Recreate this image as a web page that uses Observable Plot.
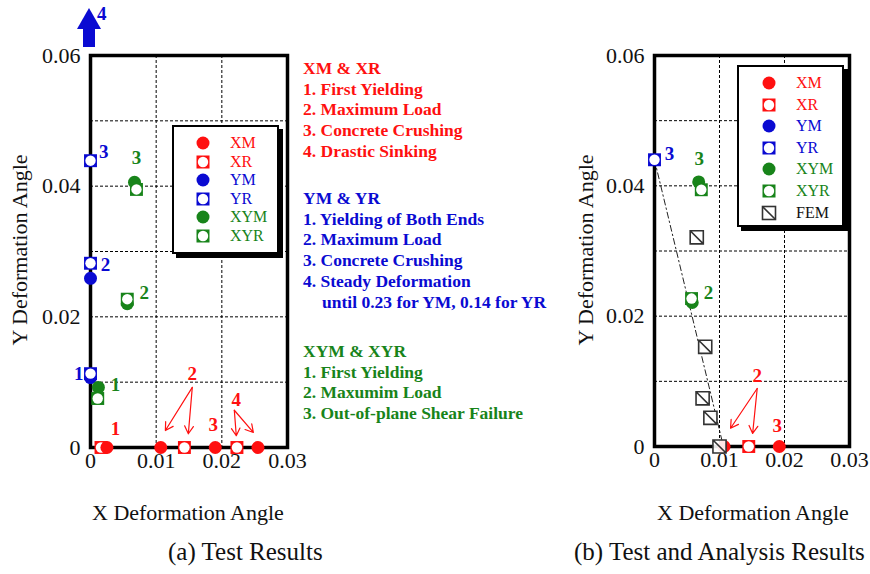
<!DOCTYPE html>
<html>
<head>
<meta charset="utf-8">
<script src="https://cdn.jsdelivr.net/npm/d3@7"></script>
<script src="https://cdn.jsdelivr.net/npm/@observablehq/plot@0.6"></script>
<style>
  html, body { margin: 0; padding: 0; background: #fff; overflow: hidden; }
  #root { position: relative; width: 870px; height: 574px; overflow: hidden; font-family: 'Liberation Serif'; }
  .abs { position: absolute; white-space: nowrap; font-family: 'Liberation Serif'; }
  .lbl { font-size: 22px; color: #111; }
  .cap { font-size: 25px; color: #111; }
  .note { font-size: 17.5px; font-weight: bold; line-height: 20.7px; }
  .legend { position: absolute; background: #fff; border: 2px solid #000; box-shadow: 4px 4px 0 #000; font-family: 'Liberation Serif'; }
  .legend .row { position: absolute; left: 0; font-size: 16px; font-family: 'Liberation Serif'; }
</style>
</head>
<body>
<div id="root"></div>
<script>
const SERIF = "Liberation Serif";
// ---------- colours ----------
const RED = "#ff1010", BLUE = "#0a0ad2", GREEN = "#18841a";

// ---------- Panel (a) data : Test results ----------
const a_xmX = [0.0025, 0.0107, 0.0190, 0.0255];
const a_xmY = [0, 0, 0, 0];
const a_xrX = [0.0016, 0.0143, 0.0223];
const a_xrY = [0, 0, 0];
const a_ymX = [0, 0];
const a_ymY = [0.0107, 0.0259];
const a_yrX = [0, 0, 0];
const a_yrY = [0.0113, 0.0282, 0.0439];
const a_xymX = [0.0012, 0.0056, 0.0067];
const a_xymY = [0.0092, 0.0220, 0.0406];
const a_xyrX = [0.0011, 0.0056, 0.0070];
const a_xyrY = [0.0075, 0.0227, 0.0395];

// stage-number labels (text, x, y, series colour key)
const a_lblText = ["1", "2", "3", "4", "1", "2", "3", "1", "2", "3"];
const a_lblX = [0.0038, 0.0155, 0.0187, 0.0222, -0.0018, 0.0023, 0.0020, 0.0038, 0.0082, 0.0070];
const a_lblY = [0.0029, 0.0113, 0.0034, 0.0073, 0.0113, 0.0279, 0.0452, 0.0096, 0.0236, 0.0444];
const a_lblC = ["r", "r", "r", "r", "b", "b", "b", "g", "g", "g"];
// arrows from labels to points
const a_arX1 = [0.0155, 0.0155, 0.0219, 0.0219];
const a_arY1 = [0.0092, 0.0092, 0.0057, 0.0057];
const a_arX2 = [0.0114, 0.0149, 0.0222, 0.0248];
const a_arY2 = [0.0026, 0.0021, 0.0018, 0.0023];

// ---------- Panel (b) data : Test and analysis ----------
const b_xmX = [0.0107, 0.0192];
const b_xmY = [0, 0];
const b_xrX = [0.0145];
const b_xrY = [0];
const b_yrX = [0];
const b_yrY = [0.0440];
const b_xymX = [0.0068, 0.0058];
const b_xymY = [0.0406, 0.0221];
const b_xyrX = [0.0072, 0.0057];
const b_xyrY = [0.0394, 0.0227];
const b_femX = [0.0065, 0.0078, 0.0074, 0.0086, 0.0100];
const b_femY = [0.0321, 0.0153, 0.0074, 0.0044, 0.0000];
const b_fitX = [0, 0.0106];
const b_fitY = [0.0440, 0];
const b_lblText = ["3", "3", "2", "2", "3"];
const b_lblX = [0.0023, 0.0069, 0.0083, 0.0158, 0.0189];
const b_lblY = [0.0449, 0.0442, 0.0236, 0.0109, 0.0032];
const b_lblC = ["b", "g", "g", "r", "r"];
const b_arX1 = [0.0158, 0.0158];
const b_arY1 = [0.0089, 0.0089];
const b_arX2 = [0.0117, 0.0151];
const b_arY2 = [0.0028, 0.0020];

// ---------- axes ----------
const xTicks = [0, 0.01, 0.02, 0.03];
const yTicks = [0, 0.02, 0.04, 0.06];
const xGrid = [0.01, 0.02];
const yGrid = [0.01, 0.02, 0.03, 0.04, 0.05];

// legend entries
const legNames = ["XM", "XR", "YM", "YR", "XYM", "XYR"];
const legColors = [RED, RED, BLUE, BLUE, GREEN, GREEN];
const legShapes = ["circle", "square", "circle", "square", "circle", "square"];

const colorOf = {r: RED, b: BLUE, g: GREEN};
const fmt = d => d === 0 ? "0" : d3.format(".2f")(d);
const pts = (xs, ys) => xs.map((x, i) => ({x, y: ys[i]}));

// custom FEM symbol: square with diagonal
const femSymbol = {
  draw(ctx, size) {
    const s = Math.sqrt(size) / 2;
    ctx.moveTo(-s, -s); ctx.lineTo(s, -s); ctx.lineTo(s, s); ctx.lineTo(-s, s); ctx.closePath();
    ctx.moveTo(-s, -s); ctx.lineTo(s, s);
  }
};

function seriesMarks(s) {
  const out = [];
  const circ = (d, c) => out.push(Plot.dot(d, {x: "x", y: "y", r: 6.5, fill: c}));
  const sq = (d, c) => {
    out.push(Plot.dot(d, {x: "x", y: "y", r: 7.3, symbol: "square", fill: c}));
    out.push(Plot.dot(d, {x: "x", y: "y", r: 5.2, fill: "#fff"}));
  };
  if (s.ym) circ(s.ym, BLUE);
  if (s.yr) sq(s.yr, BLUE);
  if (s.xym) circ(s.xym, GREEN);
  if (s.xyr) sq(s.xyr, GREEN);
  if (s.xr) sq(s.xr, RED);
  if (s.xm) circ(s.xm, RED);
  return out;
}

function baseMarks() {
  return [
    Plot.gridX(xGrid, {stroke: "#000", strokeOpacity: 1, strokeWidth: 1, strokeDasharray: "3,2"}),
    Plot.gridY(yGrid, {stroke: "#000", strokeOpacity: 1, strokeWidth: 1, strokeDasharray: "3,2"}),
    Plot.axisX({ticks: xTicks, tickSize: 0, tickPadding: 5, tickFormat: fmt, fontSize: 22, label: null, fontFamily: SERIF}),
    Plot.axisY({ticks: yTicks, tickSize: 0, tickPadding: 10, tickFormat: fmt, fontSize: 22, label: null, fontFamily: SERIF}),
    Plot.frame({stroke: "#000", strokeWidth: 3.5})
  ];
}

function labelMarks(t, xs, ys, cs) {
  const d = t.map((s, i) => ({s, x: xs[i], y: ys[i], c: colorOf[cs[i]]}));
  return Plot.text(d, {x: "x", y: "y", text: "s", fill: "c", fontSize: 19, fontWeight: "bold", fontFamily: SERIF});
}
function arrowMarks(x1, y1, x2, y2) {
  const d = x1.map((v, i) => ({x1: v, y1: y1[i], x2: x2[i], y2: y2[i]}));
  return Plot.arrow(d, {x1: "x1", y1: "y1", x2: "x2", y2: "y2", stroke: RED, strokeWidth: 1.2, headLength: 11, bend: false, insetEnd: 0});
}

const common = {
  height: 574, marginTop: 55, marginBottom: 127,
  x: {domain: [0, 0.03]}, y: {domain: [0, 0.06]},
  style: {fontFamily: SERIF, color: "#111", background: "transparent", overflow: "visible"}
};

// ---------- Panel (a) ----------
const chartA = Plot.plot({
  ...common, width: 300, marginLeft: 90, marginRight: 13,
  marks: [
    ...baseMarks(),
    ...seriesMarks({
      xm: pts(a_xmX, a_xmY), xr: pts(a_xrX, a_xrY), ym: pts(a_ymX, a_ymY),
      yr: pts(a_yrX, a_yrY), xym: pts(a_xymX, a_xymY), xyr: pts(a_xyrX, a_xyrY)
    }),
    arrowMarks(a_arX1, a_arY1, a_arX2, a_arY2),
    labelMarks(a_lblText, a_lblX, a_lblY, a_lblC)
  ]
});

// ---------- Panel (b) ----------
const chartB = Plot.plot({
  ...common, width: 300, marginLeft: 89, marginRight: 16, marginBottom: 128,
  marks: [
    ...baseMarks(),
    Plot.line(pts(b_fitX, b_fitY), {x: "x", y: "y", stroke: "#222", strokeWidth: 1, strokeDasharray: "6,3,1.5,3"}),
    ...seriesMarks({
      xm: pts(b_xmX, b_xmY), xr: pts(b_xrX, b_xrY),
      yr: pts(b_yrX, b_yrY), xym: pts(b_xymX, b_xymY), xyr: pts(b_xyrX, b_xyrY)
    }),
    Plot.dot(pts(b_femX, b_femY), {x: "x", y: "y", r: 7.4, symbol: femSymbol, fill: "#fff", fillOpacity: 0.9, stroke: "#333", strokeWidth: 1.6}),
    arrowMarks(b_arX1, b_arY1, b_arX2, b_arY2),
    labelMarks(b_lblText, b_lblX, b_lblY, b_lblC)
  ]
});

const root = document.getElementById("root");
function place(el, left, top) { el.style.position = "absolute"; el.style.left = left + "px"; el.style.top = top + "px"; root.appendChild(el); }
place(chartA, 0, 0);
place(chartB, 565, 0);

function addText(text, cls, css) {
  const d = document.createElement("div");
  d.className = "abs " + cls;
  d.textContent = text;
  d.style.fontFamily = SERIF;
  Object.assign(d.style, css);
  root.appendChild(d);
  return d;
}
// axis labels and captions
addText("X Deformation Angle", "lbl", {left: "92px", top: "500px"});
addText("(a) Test Results", "cap", {left: "168px", top: "538px"});
addText("X Deformation Angle", "lbl", {left: "657px", top: "500px"});
addText("(b) Test and Analysis Results", "cap", {left: "574px", top: "538px"});
addText("Y Deformation Angle", "lbl", {left: "20px", top: "250px", transform: "translate(-50%,-50%) rotate(-90deg)"});
addText("Y Deformation Angle", "lbl", {left: "586px", top: "250px", transform: "translate(-50%,-50%) rotate(-90deg)"});

// notes
const notes = [
  {c: RED, lines: ["XM & XR", "1. First Yielding", "2. Maximum Load", "3. Concrete Crushing", "4. Drastic Sinking"], top: 58},
  {c: BLUE, lines: ["YM & YR", "1. Yielding of Both Ends", "2. Maximum Load", "3. Concrete Crushing", "4. Steady Deformation", "    until 0.23 for YM, 0.14 for YR"], top: 188},
  {c: GREEN, lines: ["XYM & XYR", "1. First Yielding", "2. Maxumim Load", "3. Out-of-plane Shear Failure"], top: 341}
];
notes.forEach(n => {
  const d = document.createElement("div");
  d.className = "abs note";
  d.style.fontFamily = SERIF;
  d.style.left = "303px"; d.style.top = n.top + "px"; d.style.color = n.c;
  n.lines.forEach(l => {
    const ln = document.createElement("div");
    const indent = l.startsWith("    ");
    ln.textContent = l.trim();
    if (indent) ln.style.paddingLeft = "19px";
    d.appendChild(ln);
  });
  root.appendChild(d);
});

// legends
function symSVG(shape, color) {
  if (shape === "circle") return `<svg width="16" height="16"><circle cx="8" cy="8" r="6.5" fill="${color}"/></svg>`;
  if (shape === "square") return `<svg width="16" height="16"><rect x="1.5" y="1.5" width="13" height="13" fill="${color}"/><circle cx="8" cy="8" r="5.2" fill="#fff"/></svg>`;
  return `<svg width="16" height="16"><rect x="1.5" y="1.5" width="13" height="13" fill="#fff" stroke="#333" stroke-width="1.6"/><line x1="1.5" y1="1.5" x2="14.5" y2="14.5" stroke="#333" stroke-width="1.6"/></svg>`;
}
function legend(left, top, w, h, names, colors, shapes, y0, dy, symX, txtX) {
  const box = document.createElement("div");
  box.className = "legend";
  Object.assign(box.style, {left: left + "px", top: top + "px", width: w + "px", height: h + "px"});
  names.forEach((n, i) => {
    const cy = y0 + i * dy;
    const s = document.createElement("div");
    s.style.position = "absolute"; s.style.left = (symX - 8) + "px"; s.style.top = (cy - 8) + "px";
    s.style.width = "16px"; s.style.height = "16px"; s.style.lineHeight = "0";
    s.innerHTML = symSVG(shapes[i], colors[i]);
    box.appendChild(s);
    const t = document.createElement("div");
    t.className = "row";
    t.style.fontFamily = SERIF;
    t.style.left = txtX + "px"; t.style.top = (cy - 10) + "px"; t.style.color = colors[i];
    t.style.lineHeight = "20px";
    t.textContent = n;
    box.appendChild(t);
  });
  root.appendChild(box);
}
legend(172, 125, 103, 125, legNames, legColors, legShapes, 16, 18.6, 29, 56);
legend(737, 65, 103, 158, [...legNames, "FEM"], [...legColors, "#111"], [...legShapes, "fem"], 16, 21.6, 30, 57);

// blue upward arrow (YM stage 4 beyond range)
const up = document.createElement("div");
up.className = "abs";
up.style.left = "0px"; up.style.top = "0px";
up.innerHTML = `<svg width="120" height="50"><polygon points="77,29 89,8 101,29" fill="${BLUE}"/><rect x="83" y="28" width="12" height="19" fill="${BLUE}"/><text x="97" y="20" font-size="19" font-weight="bold" font-family="Liberation Serif" fill="${BLUE}">4</text></svg>`;
root.appendChild(up);
</script>
</body>
</html>
